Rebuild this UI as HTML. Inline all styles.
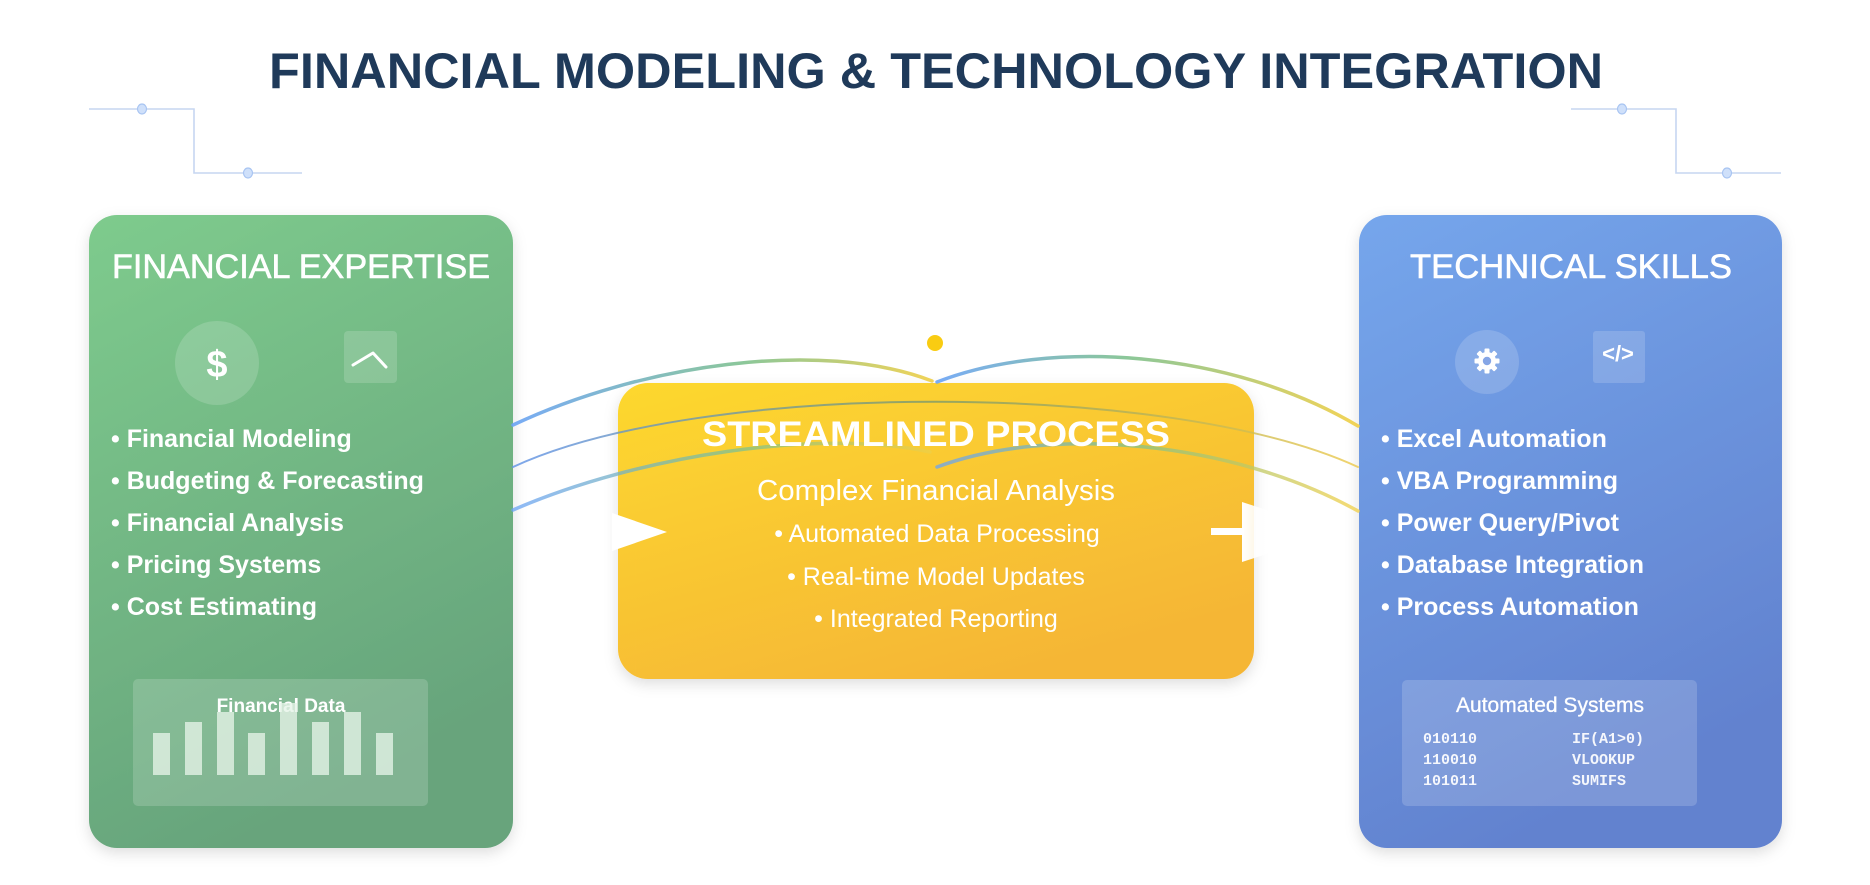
<!DOCTYPE html>
<html>
<head>
<meta charset="utf-8">
<style>
  html,body{margin:0;padding:0;background:#ffffff;}
  body{width:1870px;height:885px;overflow:hidden;}
  svg{display:block;}
  text{font-family:"Liberation Sans",Arial,sans-serif;}
  .mono text{font-family:"Liberation Mono","DejaVu Sans Mono",monospace;}
</style>
</head>
<body>
<svg width="1870" height="885" viewBox="0 0 1870 885" xmlns="http://www.w3.org/2000/svg">
  <defs>
    <linearGradient id="gGreen" x1="0" y1="0" x2="0.35" y2="1">
      <stop offset="0" stop-color="#7ecb8d"/>
      <stop offset="1" stop-color="#67a47c"/>
    </linearGradient>
    <linearGradient id="gBlue" x1="0" y1="0" x2="0.35" y2="1">
      <stop offset="0" stop-color="#75a6ec"/>
      <stop offset="1" stop-color="#6282cf"/>
    </linearGradient>
    <linearGradient id="gYellow" x1="0" y1="0" x2="0.6" y2="1">
      <stop offset="0" stop-color="#fdd82e"/>
      <stop offset="1" stop-color="#f5b636"/>
    </linearGradient>
    <linearGradient id="arcL" gradientUnits="userSpaceOnUse" x1="513" y1="0" x2="935" y2="0">
      <stop offset="0" stop-color="#6aa3f4"/>
      <stop offset="0.55" stop-color="#7fc18e"/>
      <stop offset="1" stop-color="#f1cf45"/>
    </linearGradient>
    <linearGradient id="arcR" gradientUnits="userSpaceOnUse" x1="937" y1="0" x2="1358" y2="0">
      <stop offset="0" stop-color="#6aa3f4"/>
      <stop offset="0.45" stop-color="#7fc18e"/>
      <stop offset="1" stop-color="#f1cf45"/>
    </linearGradient>
    <linearGradient id="arcM" gradientUnits="userSpaceOnUse" x1="513" y1="0" x2="1358" y2="0">
      <stop offset="0" stop-color="#5f92e6"/>
      <stop offset="0.5" stop-color="#7d9a6a"/>
      <stop offset="1" stop-color="#ecc94a"/>
    </linearGradient>
    <linearGradient id="arrowFade" gradientUnits="userSpaceOnUse" x1="1242" y1="0" x2="1335" y2="0">
      <stop offset="0" stop-color="#ffffff" stop-opacity="1"/>
      <stop offset="1" stop-color="#ffffff" stop-opacity="0.2"/>
    </linearGradient>
    <filter id="sh" x="-10%" y="-10%" width="120%" height="125%">
      <feDropShadow dx="0" dy="5" stdDeviation="7" flood-color="#000" flood-opacity="0.13"/>
    </filter>
  </defs>

  <!-- Title -->
  <text x="269" y="88" font-size="50" font-weight="bold" fill="#1f3a5a" textLength="1334" lengthAdjust="spacingAndGlyphs">FINANCIAL MODELING &amp; TECHNOLOGY INTEGRATION</text>

  <!-- Decorative circuit lines -->
  <g stroke="#c6d6f1" stroke-width="1.6" fill="none">
    <polyline points="89,109 194,109 194,173 302,173"/>
    <polyline points="1571,109 1676,109 1676,173 1781,173"/>
  </g>
  <g fill="#cfe0fa" stroke="#a9c5f2" stroke-width="1.2">
    <ellipse cx="142" cy="109" rx="4.5" ry="5"/>
    <ellipse cx="248" cy="173" rx="4.5" ry="5"/>
    <ellipse cx="1622" cy="109" rx="4.5" ry="5"/>
    <ellipse cx="1727" cy="173" rx="4.5" ry="5"/>
  </g>

  <!-- Left card -->
  <rect x="89" y="215" width="424" height="633" rx="28" fill="url(#gGreen)" filter="url(#sh)"/>
  <text x="112" y="278" font-size="34" fill="#ffffff" stroke="#ffffff" stroke-width="0.6" textLength="378" lengthAdjust="spacingAndGlyphs">FINANCIAL EXPERTISE</text>
  <circle cx="217" cy="363" r="42" fill="#ffffff" fill-opacity="0.16"/>
  <text x="217" y="377" font-size="38" font-weight="bold" fill="#ffffff" text-anchor="middle">$</text>
  <rect x="344" y="331" width="53" height="52" rx="4" fill="#ffffff" fill-opacity="0.16"/>
  <polyline points="353,365 373,353 386,367" fill="none" stroke="#ffffff" stroke-width="3" stroke-linecap="round" stroke-linejoin="round"/>
  <g font-size="25" font-weight="bold" fill="#ffffff">
    <text x="111" y="447">• Financial Modeling</text>
    <text x="111" y="489">• Budgeting &amp; Forecasting</text>
    <text x="111" y="531">• Financial Analysis</text>
    <text x="111" y="573">• Pricing Systems</text>
    <text x="111" y="615">• Cost Estimating</text>
  </g>
  <rect x="133" y="679" width="295" height="127" rx="5" fill="#ffffff" fill-opacity="0.17"/>
  <text x="281" y="712" font-size="19" font-weight="bold" fill="#ffffff" text-anchor="middle">Financial Data</text>
  <g fill="#e6f3e8" fill-opacity="0.78">
    <rect x="153" y="733" width="17" height="42"/>
    <rect x="185" y="722" width="17" height="53"/>
    <rect x="217" y="712" width="17" height="63"/>
    <rect x="248" y="733" width="17" height="42"/>
    <rect x="280" y="703" width="17" height="72"/>
    <rect x="312" y="722" width="17" height="53"/>
    <rect x="344" y="712" width="17" height="63"/>
    <rect x="376" y="733" width="17" height="42"/>
  </g>

  <!-- Right card -->
  <rect x="1359" y="215" width="423" height="633" rx="28" fill="url(#gBlue)" filter="url(#sh)"/>
  <text x="1410" y="278" font-size="34" fill="#ffffff" stroke="#ffffff" stroke-width="0.6" textLength="322" lengthAdjust="spacingAndGlyphs">TECHNICAL SKILLS</text>
  <circle cx="1487" cy="362" r="32" fill="#ffffff" fill-opacity="0.16"/>
  <g transform="translate(1487,361)" fill="#ffffff">
    <circle r="9"/>
    <rect x="-2.5" y="-12.5" width="5" height="25" rx="1"/>
    <rect x="-2.5" y="-12.5" width="5" height="25" rx="1" transform="rotate(45)"/>
    <rect x="-2.5" y="-12.5" width="5" height="25" rx="1" transform="rotate(90)"/>
    <rect x="-2.5" y="-12.5" width="5" height="25" rx="1" transform="rotate(135)"/>
    <circle r="4.2" fill="#86a6e6"/>
  </g>
  <rect x="1593" y="331" width="52" height="52" rx="3" fill="#ffffff" fill-opacity="0.16"/>
  <text x="1618" y="361" font-size="22" font-weight="bold" fill="#ffffff" text-anchor="middle">&lt;/&gt;</text>
  <g font-size="25" font-weight="bold" fill="#ffffff">
    <text x="1381" y="447">• Excel Automation</text>
    <text x="1381" y="489">• VBA Programming</text>
    <text x="1381" y="531">• Power Query/Pivot</text>
    <text x="1381" y="573">• Database Integration</text>
    <text x="1381" y="615">• Process Automation</text>
  </g>
  <rect x="1402" y="680" width="295" height="126" rx="5" fill="#ffffff" fill-opacity="0.17"/>
  <text x="1550" y="712" font-size="21" fill="#ffffff" stroke="#ffffff" stroke-width="0.3" text-anchor="middle">Automated Systems</text>
  <g class="mono" font-size="15" font-weight="bold" fill="#ffffff" fill-opacity="0.92">
    <text x="1423" y="743">010110</text>
    <text x="1423" y="764">110010</text>
    <text x="1423" y="785">101011</text>
    <text x="1572" y="743">IF(A1&gt;0)</text>
    <text x="1572" y="764">VLOOKUP</text>
    <text x="1572" y="785">SUMIFS</text>
  </g>

  <!-- Center box -->
  <rect x="618" y="383" width="636" height="296" rx="30" fill="url(#gYellow)" filter="url(#sh)"/>
  <!-- left notch -->
  <polygon points="612,513 667,532 612,551" fill="#ffffff"/>
  <!-- right arrow -->
  <rect x="1211" y="528" width="33" height="7" fill="#ffffff"/>
  <polygon points="1242,502 1335,532 1242,562" fill="url(#arrowFade)"/>

  <!-- yellow dot -->
  <circle cx="935" cy="343" r="8" fill="#f9cc12"/>

  <!-- connector arcs -->
  <g fill="none" stroke-linecap="round">
    <path d="M513,425 C640,365 820,338 932,381" stroke="url(#arcL)" stroke-width="3.5" stroke-opacity="0.9"/>
    <path d="M937,382 C1050,338 1230,350 1358,426" stroke="url(#arcR)" stroke-width="3.5" stroke-opacity="0.9"/>
    <path d="M513,467 C700,380 1170,380 1358,467" stroke="url(#arcM)" stroke-width="2" stroke-opacity="0.8"/>
    <path d="M513,510 C640,455 820,428 930,452" stroke="url(#arcL)" stroke-width="3.5" stroke-opacity="0.75"/>
    <path d="M937,467 C1050,425 1230,440 1358,511" stroke="url(#arcR)" stroke-width="3.5" stroke-opacity="0.75"/>
  </g>

  <!-- center text -->
  <text x="702" y="446" font-size="35" font-weight="bold" fill="#ffffff" textLength="468" lengthAdjust="spacingAndGlyphs">STREAMLINED PROCESS</text>
  <text x="757" y="500" font-size="29" fill="#ffffff" textLength="358" lengthAdjust="spacingAndGlyphs">Complex Financial Analysis</text>
  <g font-size="25" fill="#ffffff" text-anchor="middle">
    <text x="937" y="542">• Automated Data Processing</text>
    <text x="936" y="585">• Real-time Model Updates</text>
    <text x="936" y="627">• Integrated Reporting</text>
  </g>
</svg>
</body>
</html>
